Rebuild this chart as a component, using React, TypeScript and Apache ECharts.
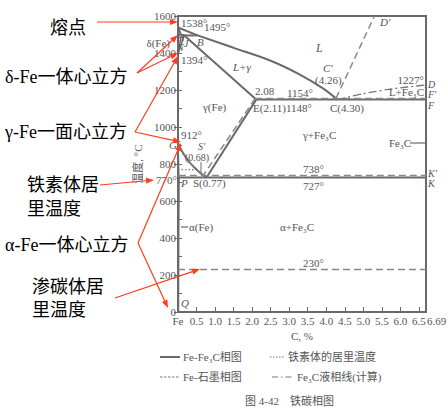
import React, { useEffect, useRef } from "react";
import * as echarts from "echarts";

// ---- data (wt% C, °C) ----
const xTickValues = [0, 0.5, 1, 1.5, 2, 2.5, 3, 3.5, 4, 4.5, 5, 5.5, 6, 6.5, 6.69];
const xLabelValues = [0, 0.5, 1, 1.5, 2, 2.5, 3, 3.5, 4, 4.5, 5, 5.5, 6, 6.5];
const xEndLabel = "6.69";
const yTickValues = [0, 200, 400, 600, 800, 1000, 1200, 1400, 1600];

// Fe–Fe3C (solid)
const liquidusBC = [[0.53, 1495], [1.5, 1428], [2.5, 1358], [3.3, 1282], [3.9, 1210], [4.3, 1148]];
const liquidusAB = [[0, 1538], [0.53, 1495]];
const deltaAH = [[0, 1538], [0.09, 1495]];
const peritecticHJB = [[0.09, 1495], [0.53, 1495]];
const deltaHN = [[0.09, 1495], [0, 1394]];
const deltaJN = [[0.17, 1495], [0, 1394]];
const solidusJE = [[0.17, 1495], [2.11, 1148]];
const eutecticECF = [[2.11, 1148], [6.69, 1148]];
const lineGS = [[0, 912], [0.1, 872], [0.2, 840], [0.32, 808], [0.45, 780], [0.6, 752], [0.77, 727]];
const lineGP = [[0, 912], [0.012, 820], [0.0218, 727]];
const lineES = [[2.11, 1148], [0.77, 727]];
const eutectoidPSK = [[0.0218, 727], [6.69, 727]];
const linePQ = [[0.0218, 727], [0.012, 400], [0.0057, 0]];
const cementiteLine = [[6.69, 0], [6.69, 1227]];
// Fe–graphite (dashed)
const graphiteECF = [[2.08, 1154], [6.69, 1154]];
const graphiteES = [[2.08, 1154], [0.68, 738]];
const graphitePSK = [[0.0218, 738], [6.69, 738]];
const graphiteGS = [[0, 912], [0.2, 845], [0.45, 778], [0.68, 738]];
const graphiteCD = [[4.26, 1154], [5.3, 1600]];
const cementiteCurie = [[0, 230], [6.69, 230]];
// ferrite Curie temperature (dotted)
const ferriteCurie = [[0, 770], [0.45, 770]];
// Fe3C liquidus (calculated, dash-dot)
const fe3cLiquidus = [[4.3, 1148], [5.0, 1180], [5.8, 1207], [6.69, 1227]];

const GREY = "#6a6a6a";
const TXT = "#555555";
const RED = "#ff3c1e";
const SERIF = '"Liberation Serif", "Noto Sans CJK SC", serif';
const CJK = '"Liberation Serif", "Noto Sans CJK SC", sans-serif';

function txt(x: number, y: number, s: string, o: any = {}) {
  const align = o.align || "left";
  return {
    type: "text",
    z: 50,
    x,
    y,
    style: {
      text: s,
      fill: o.fill || TXT,
      fontSize: o.size || 11,
      fontFamily: o.family || SERIF,
      fontStyle: o.italic ? "italic" : "normal",
      align,
      textAlign: align,
      verticalAlign: "middle",
      textVerticalAlign: "middle",
    },
  };
}

function arrow(x1: number, y1: number, x2: number, y2: number) {
  const dx = x2 - x1;
  const dy = y2 - y1;
  const len = Math.sqrt(dx * dx + dy * dy);
  const ux = dx / len;
  const uy = dy / len;
  const hl = 8;
  const hw = 3;
  const bx = x2 - ux * hl;
  const by = y2 - uy * hl;
  return [
    {
      type: "line",
      z: 60,
      shape: { x1, y1, x2: bx, y2: by },
      style: { stroke: RED, lineWidth: 1.2 },
    },
    {
      type: "polygon",
      z: 60,
      shape: {
        points: [
          [x2, y2],
          [bx - uy * hw, by + ux * hw],
          [bx + uy * hw, by - ux * hw],
        ],
      },
      style: { fill: RED },
    },
  ];
}

function seg(data: number[][], type: any, width = 2, color = GREY, smooth: any = false) {
  return {
    type: "line",
    data,
    smooth,
    showSymbol: false,
    symbol: "none",
    silent: true,
    z: 3,
    lineStyle: { color, width, type },
  };
}

export default function App() {
  const ref = useRef<HTMLDivElement>(null);
  useEffect(() => {
    if (!ref.current) return;
    const chart = echarts.init(ref.current, undefined, { renderer: "svg" });
    const solid = "solid";
    const dashed = [7, 4];
    const dotted = [1.5, 2];
    const dashDot = [8, 3, 2, 3];
    const series = [
      seg(liquidusAB, solid),
      seg(liquidusBC, solid, 2, GREY, 0.4),
      seg(deltaAH, solid),
      seg(peritecticHJB, solid),
      seg(deltaHN, solid, 1.5),
      seg(deltaJN, solid, 1.5),
      seg(solidusJE, solid),
      seg(eutecticECF, solid),
      seg(lineGS, solid, 2, GREY, 0.3),
      seg(lineGP, solid, 1.5),
      seg(lineES, solid),
      seg(eutectoidPSK, solid),
      seg(linePQ, solid),
      seg(cementiteLine, solid),
      seg(graphiteECF, dashed, 1.5, "#888"),
      seg(graphiteES, dashed, 1.5, "#888"),
      seg(graphitePSK, dashed, 1.5, "#888"),
      seg(graphiteGS, dashed, 1, "#888", 0.3),
      seg(graphiteCD, dashed, 1.5, "#888"),
      seg(cementiteCurie, dashed, 1.5, "#888"),
      seg(ferriteCurie, dotted, 1.2, "#777"),
      seg(fe3cLiquidus, dashDot, 1.3, "#777", 0.3),
    ];

    const fe3c = "Fe\u2083C";
    const graphic: any[] = [
      // end tick label of the x axis (crowded next to 6.5)
      txt(427, 321, xEndLabel),
      // region and point labels
      txt(181, 23, "1538°"),
      txt(204, 27, "1495°"),
      txt(170, 43, "δ(Fe)", { align: "right" }),
      txt(177, 37, "H", { italic: true, size: 10 }),
      txt(177, 47, "N", { italic: true, size: 10 }),
      txt(184, 43, "J", { italic: true, size: 10 }),
      txt(197, 42, "B", { italic: true }),
      txt(181, 60, "1394°"),
      txt(316, 48, "L", { italic: true, size: 12 }),
      txt(233, 67, "L+γ", { italic: true }),
      txt(203, 107, "γ(Fe)"),
      txt(255, 91, "2.08"),
      txt(253, 108, "E(2.11)1148°"),
      txt(287, 93, "1154°"),
      txt(323, 68, "C'", { italic: true }),
      txt(315, 80, "(4.26)"),
      txt(330, 108, "C(4.30)"),
      txt(380, 22, "D'", { italic: true }),
      txt(424, 80, "1227°", { align: "right" }),
      txt(424, 92, "L+" + fe3c, { align: "right" }),
      txt(428, 84, "D", { italic: true, size: 10 }),
      txt(428, 94, "F'", { italic: true, size: 10 }),
      txt(428, 105, "F", { italic: true, size: 10 }),
      txt(303, 135, "γ+" + fe3c),
      txt(389, 143, fe3c),
      { type: "line", z: 50, shape: { x1: 410, y1: 143, x2: 425, y2: 143 }, style: { stroke: GREY, lineWidth: 1.2 } },
      txt(177, 145, "G", { italic: true, align: "right" }),
      txt(181, 135, "912°"),
      txt(198, 146, "S'", { italic: true, size: 10 }),
      txt(185, 157, "(0.68)", { size: 10 }),
      { type: "line", z: 50, shape: { x1: 201, y1: 162, x2: 201, y2: 173 }, style: { stroke: GREY, lineWidth: 1 } },
      txt(177, 180, "770°", { align: "right" }),
      txt(181, 183, "P", { italic: true }),
      txt(193, 183, "S(0.77)"),
      txt(303, 169, "738°"),
      txt(303, 186, "727°"),
      txt(428, 173, "K'", { italic: true, size: 10 }),
      txt(428, 183, "K", { italic: true, size: 10 }),
      { type: "line", z: 50, shape: { x1: 181, y1: 227, x2: 188, y2: 227 }, style: { stroke: GREY, lineWidth: 1.2 } },
      txt(189, 227, "α(Fe)"),
      txt(280, 227, "α+" + fe3c),
      txt(303, 263, "230°"),
      txt(181, 303, "Q", { italic: true }),

      // legend
      { type: "line", z: 50, shape: { x1: 160, y1: 357, x2: 180, y2: 357 }, style: { stroke: GREY, lineWidth: 2 } },
      txt(183, 357, "Fe-" + fe3c + "相图", { family: CJK }),
      { type: "line", z: 50, shape: { x1: 270, y1: 357, x2: 284, y2: 357 }, style: { stroke: "#777", lineWidth: 1, lineDash: [1.5, 1.5] } },
      txt(288, 357, "铁素体的居里温度", { family: CJK }),
      { type: "line", z: 50, shape: { x1: 160, y1: 377, x2: 180, y2: 377 }, style: { stroke: "#777", lineWidth: 1, lineDash: [2.5, 1.5] } },
      txt(183, 377, "Fe-石墨相图", { family: CJK }),
      { type: "line", z: 50, shape: { x1: 272, y1: 377, x2: 293, y2: 377 }, style: { stroke: "#777", lineWidth: 1, lineDash: [6, 3, 1.5, 3] } },
      txt(297, 377, fe3c + "液相线(计算)", { family: CJK }),
      txt(245, 401, "图 4-42    铁碳相图", { family: CJK }),

      // left annotations
      txt(50, 28, "熔点", { fill: "#000", size: 18, family: CJK }),
      txt(5, 77, "δ-Fe一体心立方", { fill: "#000", size: 18, family: CJK }),
      txt(5, 132, "γ-Fe一面心立方", { fill: "#000", size: 18, family: CJK }),
      txt(27, 185, "铁素体居", { fill: "#000", size: 18, family: CJK }),
      txt(27, 209, "里温度", { fill: "#000", size: 18, family: CJK }),
      txt(5, 245, "α-Fe一体心立方", { fill: "#000", size: 18, family: CJK }),
      txt(32, 287, "渗碳体居", { fill: "#000", size: 18, family: CJK }),
      txt(32, 310, "里温度", { fill: "#000", size: 18, family: CJK }),

      // red arrows
      ...arrow(97, 22, 178, 22),
      ...arrow(137, 73, 178, 35),
      ...arrow(137, 73, 178, 53),
      ...arrow(135, 132, 178, 56),
      ...arrow(135, 132, 181, 142),
      ...arrow(100, 185, 154, 180),
      ...arrow(138, 243, 181, 143),
      ...arrow(138, 243, 168, 308),
      ...arrow(115, 298, 200, 269),
    ];

    chart.setOption({
      animation: false,
      grid: {
        left: 178,
        top: 16,
        right: 22,
        bottom: 102,
        show: true,
        borderColor: GREY,
        borderWidth: 2,
      },
      xAxis: {
        type: "value",
        min: 0,
        max: 6.69,
        interval: 0.5,
        name: "C, %",
        nameLocation: "middle",
        nameGap: 16,
        nameTextStyle: { color: TXT, fontSize: 11, fontFamily: SERIF },
        axisLine: { lineStyle: { color: GREY, width: 2 } },
        axisTick: { inside: true, length: 5, lineStyle: { color: GREY }, customValues: xTickValues },
        axisLabel: {
          customValues: xLabelValues,
          margin: 3,
          hideOverlap: false,
          color: TXT,
          fontSize: 11,
          fontFamily: SERIF,
          formatter: (v: number) => (v === 0 ? "Fe" : v.toFixed(1)),
        },
        splitLine: { show: false },
      },
      yAxis: [
        {
          type: "value",
          min: 0,
          max: 1600,
          interval: 200,
          name: "温度, °C",
          nameLocation: "middle",
          nameGap: 33,
          nameRotate: 90,
          nameTextStyle: { color: TXT, fontSize: 11, fontFamily: CJK },
          axisLine: { lineStyle: { color: GREY, width: 2 } },
          axisTick: { length: 4, lineStyle: { color: GREY }, customValues: yTickValues },
          axisLabel: {
            customValues: yTickValues,
            margin: 2,
            color: TXT,
            fontSize: 11,
            fontFamily: SERIF,
            formatter: (v: number) => String(v),
          },
          splitLine: { show: false },
        },
        {
          type: "value",
          position: "left",
          offset: 0,
          min: 0,
          max: 1600,
          interval: 100,
          axisLine: { show: false },
          axisTick: { inside: true, length: 4, lineStyle: { color: GREY } },
          axisLabel: { show: false },
          splitLine: { show: false },
        },
      ],
      series,
      graphic,
    });
    return () => chart.dispose();
  }, []);
  return <div ref={ref} style={{ width: 448, height: 414, position: "absolute", left: 0, top: 0 }} />;
}
